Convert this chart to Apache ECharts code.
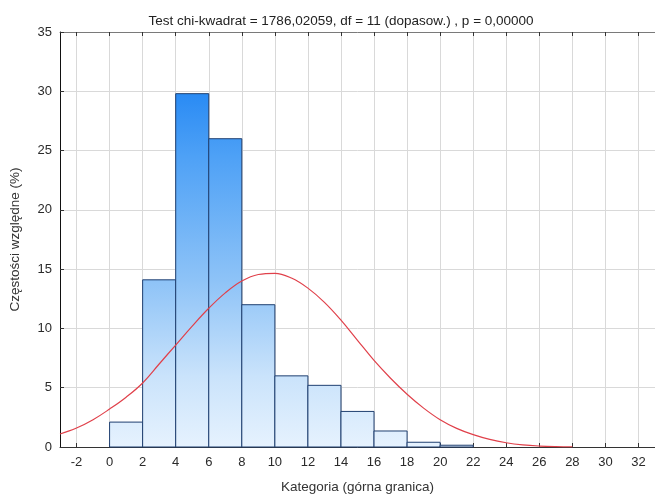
<!DOCTYPE html>
<html>
<head>
<meta charset="utf-8">
<script src="https://cdn.jsdelivr.net/npm/echarts@6/dist/echarts.min.js"></script>
<style>
  html, body { margin: 0; padding: 0; background: #fff; }
  #chart { width: 655px; height: 499px; }
</style>
</head>
<body>
<div id="chart"></div>
<script>
// Histogram bins (lower / upper bound) and relative frequencies in %
const binLower = [0, 2, 4, 6, 8, 10, 12, 14, 16, 18, 20];
const binUpper = [2, 4, 6, 8, 10, 12, 14, 16, 18, 20, 22];
const binPercent = [2.1, 14.1, 29.8, 26.0, 12.0, 6.0, 5.2, 3.0, 1.35, 0.4, 0.15];

// Fitted normal curve, sampled at each category value
const curveX = [-3, -2, -1, 0, 1, 2, 3, 4, 5, 6, 7, 8, 9, 10, 11, 12, 13, 14, 15, 16, 17, 18, 19, 20, 21, 22, 23, 24, 25, 26, 27, 28];
const curveY = [1.1, 1.6, 2.3, 3.2, 4.2, 5.4, 7.0, 8.6, 10.2, 11.7, 13.0, 14.0, 14.55, 14.65, 14.25, 13.4, 12.2, 10.7, 9.0, 7.3, 5.8, 4.45, 3.28, 2.3, 1.57, 1.04, 0.64, 0.36, 0.18, 0.08, 0.03, 0.01];

// Axis ticks
const xTicks = [-2, 0, 2, 4, 6, 8, 10, 12, 14, 16, 18, 20, 22, 24, 26, 28, 30, 32];
const X_MIN = -3, X_MAX = 33;
const Y_MIN = 0, Y_MAX = 35, Y_STEP = 5;

const titleText = 'Test chi-kwadrat = 1786,02059, df = 11 (dopasow.) , p = 0,00000';
const FONT = '"Liberation Sans", Arial, sans-serif';

const chart = echarts.init(document.getElementById('chart'), null, { renderer: 'canvas' });

const barData = binLower.map((lo, i) => [lo, binUpper[i], binPercent[i]]);
const curveData = curveX.map((x, i) => [x, curveY[i]]);

chart.setOption({
  animation: false,
  backgroundColor: '#ffffff',
  textStyle: { fontFamily: FONT },
  title: {
    text: titleText,
    left: 336,
    top: 9,
    textAlign: 'center',
    textStyle: { fontFamily: FONT, fontSize: 13.5, fontWeight: 'normal', color: '#222' }
  },
  grid: { left: 55, right: 0, top: 32, bottom: 49, containLabel: false },
  xAxis: [
    {
      type: 'value',
      min: X_MIN,
      max: X_MAX,
      position: 'bottom',
      name: 'Kategoria (górna granica)',
      nameLocation: 'middle',
      nameGap: 33,
      nameTextStyle: { fontFamily: FONT, fontSize: 13.5, color: '#333' },
      axisLine: { show: true, onZero: false, lineStyle: { color: '#333', width: 1 } },
      axisTick: { show: true, inside: true, length: 4, customValues: xTicks, lineStyle: { color: '#333' } },
      axisLabel: { customValues: xTicks, fontFamily: FONT, fontSize: 13, color: '#2a2a2a', margin: 9 },
      splitLine: { show: true, lineStyle: { color: '#d9d9d9', width: 1 } }
    },
    {
      type: 'value',
      min: X_MIN,
      max: X_MAX,
      position: 'top',
      axisLine: { show: true, onZero: false, lineStyle: { color: '#7a7a7a', width: 1 } },
      axisTick: { show: true, inside: true, length: 4, customValues: xTicks, lineStyle: { color: '#333' } },
      axisLabel: { show: false },
      splitLine: { show: false }
    }
  ],
  yAxis: {
    type: 'value',
    min: Y_MIN,
    max: Y_MAX,
    interval: Y_STEP,
    name: 'Częstości względne (%)',
    nameLocation: 'middle',
    nameGap: 38,
    nameTextStyle: { fontFamily: FONT, fontSize: 13.5, color: '#333' },
    axisLine: { show: true, onZero: false, lineStyle: { color: '#111', width: 1 } },
    axisTick: { show: true, inside: true, length: 4, lineStyle: { color: '#333' } },
    axisLabel: { fontFamily: FONT, fontSize: 13, color: '#2a2a2a', margin: 8 },
    splitLine: { show: true, lineStyle: { color: '#d9d9d9', width: 1 } }
  },
  series: [
    {
      type: 'custom',
      name: 'hist',
      xAxisIndex: 0,
      data: barData,
      z: 2,
      renderItem: function (params, api) {
        const lo = api.value(0), hi = api.value(1), v = api.value(2);
        const pTop = api.coord([lo, v]);
        const pBot = api.coord([hi, Y_MIN]);
        const plotTop = api.coord([lo, Y_MAX])[1];
        return {
          type: 'rect',
          shape: { x: pTop[0], y: pTop[1], width: pBot[0] - pTop[0], height: pBot[1] - pTop[1] },
          style: {
            fill: new echarts.graphic.LinearGradient(0, plotTop, 0, pBot[1], [
              { offset: 0, color: '#1478f2' },
              { offset: 0.15, color: '#2a8bf4' },
              { offset: 0.3, color: '#4ea1f6' },
              { offset: 0.6, color: '#8ec3f7' },
              { offset: 0.83, color: '#cae3fb' },
              { offset: 1, color: '#e6f2fe' }
            ], true),
            stroke: '#1f3f70',
            lineWidth: 1
          }
        };
      }
    },
    {
      type: 'line',
      name: 'normal',
      xAxisIndex: 0,
      data: curveData,
      smooth: 0.4,
      showSymbol: false,
      symbol: 'none',
      z: 3,
      lineStyle: { color: '#e0404a', width: 1.2 }
    }
  ]
});
</script>
</body>
</html>
